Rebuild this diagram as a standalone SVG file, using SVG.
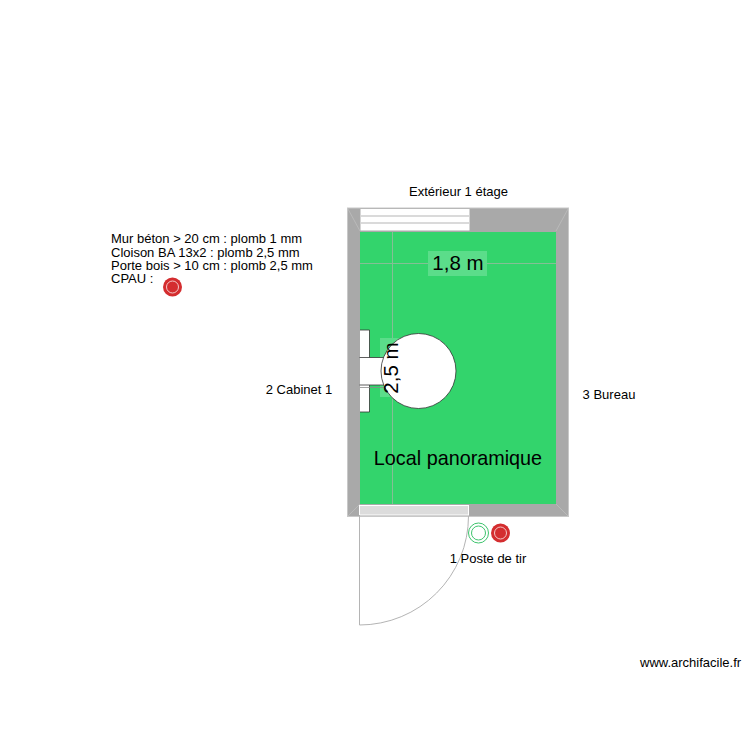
<svg xmlns="http://www.w3.org/2000/svg" width="750" height="750" viewBox="0 0 750 750">
<style>
text{font-family:"Liberation Sans",Arial,sans-serif;fill:#000}
.s{font-size:13px}
.dim{stroke:#84bf95;stroke-width:1;fill:none}
.thin{stroke:#b4b4b4;stroke-width:1;fill:none}
.ln{stroke:#333;stroke-width:0.800;fill:#fff}
.dot{fill:#d42d2f}
</style>
<rect width="750" height="750" fill="#fff"/>
<g id="walls">
<rect x="347.500" y="208" width="221" height="308.500" fill="#a9a9a9" stroke="#c8c8c8" stroke-width="1"/>
<path d="M348 209L360 231M568 209L556 231M348 516L360 504M568 516L556 504" stroke="#c0c0c0" stroke-width="0.700" fill="none"/>
</g>
<g id="room">
<rect x="360" y="232" width="196" height="272" fill="#33d46c"/>
</g>
<g id="connectors">
<path class="dim" d="M392.500 232V504M360 263.500H556"/>
</g>
<g id="window-top">
<rect x="360.500" y="209" width="109" height="21.500" fill="#fff"/>
<path d="M361 216H469M361 223H469" stroke="#b5b5b5" stroke-width="1.200" fill="none"/>
</g>
<g id="door">
<rect x="359.500" y="505.500" width="109" height="9.500" fill="#dcdcdc" stroke="#fff" stroke-width="1"/>
<path class="thin" d="M359.500 515V625A109 109 0 0 0 468.500 516"/>
</g>
<g id="label-18">
<rect x="428" y="251" width="59" height="25" fill="#5bdd8a"/>
<text x="458" y="270" font-size="20.500" text-anchor="middle">1,8 m</text>
</g>
<g id="label-25-bg">
<rect x="380" y="338" width="22" height="59" fill="#5bdd8a"/>
</g>
<g id="fixture">
<path class="ln" d="M360 330H369.500V412H360"/>
<path d="M360 357.500H386V385H360Z" fill="#fff"/>
<path d="M359.500 357.500H386M359.500 385H386" stroke="#333" stroke-width="0.800" fill="none"/>
<path d="M360 387.500H385" stroke="#8a8a8a" stroke-width="0.800"/>
<circle class="ln" cx="418.500" cy="371" r="37.500"/>
</g>
<g id="label-25">
<text transform="translate(398 368) rotate(-90)" font-size="20.500" text-anchor="middle">2,5 m</text>
</g>
<g id="room-name">
<text x="458" y="465" font-size="19.800" text-anchor="middle">Local panoramique</text>
</g>
<g id="adjacent">
<text class="s" x="458.500" y="196" text-anchor="middle">Extérieur 1 étage</text>
<text class="s" x="299" y="394" text-anchor="middle">2 Cabinet 1</text>
<text class="s" x="609" y="399" text-anchor="middle">3 Bureau</text>
<text class="s" x="488" y="563" text-anchor="middle">1 Poste de tir</text>
</g>
<g id="legend">
<text class="s" x="111" y="243">Mur béton &gt; 20 cm : plomb 1 mm</text>
<text class="s" x="111" y="257">Cloison BA 13x2 : plomb 2,5 mm</text>
<text class="s" x="111" y="270">Porte bois &gt; 10 cm : plomb 2,5 mm</text>
<text class="s" x="111" y="283">CPAU :</text>
</g>
<g id="cpau">
<circle class="dot" cx="172.500" cy="287" r="9.500"/>
<circle cx="172.500" cy="287" r="6" fill="none" stroke="#f4c8c8" stroke-width="1"/>
</g>
<g id="poste-green">
<circle cx="478.500" cy="533" r="10" fill="#fff" stroke="#3ec46d" stroke-width="1"/>
<circle cx="478.500" cy="533" r="7" fill="#fff" stroke="#3ec46d" stroke-width="1"/>
</g>
<g id="poste-red">
<circle class="dot" cx="500.500" cy="533" r="9.500"/>
<circle cx="500.500" cy="533" r="6" fill="none" stroke="#f4c8c8" stroke-width="1"/>
</g>
<g id="watermark">
<text x="640" y="667" font-size="13">www.archifacile.fr</text>
</g>
</svg>
